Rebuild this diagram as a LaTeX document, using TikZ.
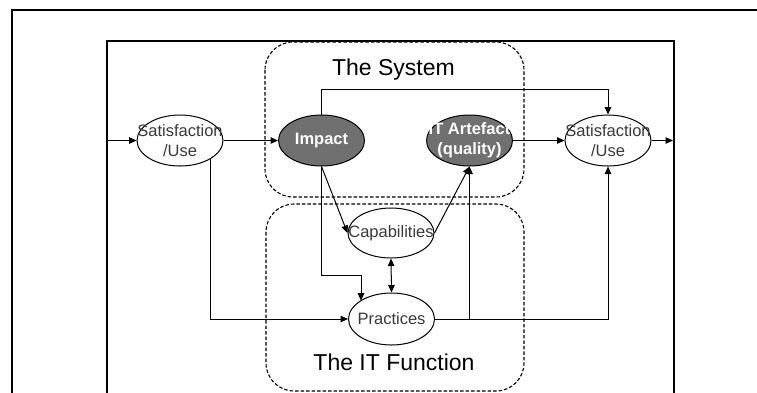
\documentclass[tikz,border=0pt]{standalone}
\usepackage{fontspec}
\setmainfont{Liberation Sans}
\usetikzlibrary{shapes.geometric,arrows.meta}
\definecolor{ovfill}{HTML}{707070}
\definecolor{txtgray}{HTML}{3A3A3A}
\tikzset{
  frame/.style={line width=2pt},
  grp/.style={draw, dashed, dash pattern=on 3.5pt off 2pt, line width=1.1pt, rounded corners=28pt},
  ov/.style={ellipse, draw, line width=1pt, minimum width=86pt, minimum height=51pt, inner sep=0pt, fill=white},
  dark/.style={ov, fill=ovfill},
  lbl/.style={text=txtgray, font=\fontsize{16.5}{20}\selectfont, align=center, inner sep=0pt},
  dlbl/.style={text=white, font=\fontsize{16.5}{20}\selectfont\bfseries, align=center, inner sep=0pt},
  ttl/.style={font=\fontsize{23}{26}\selectfont, inner sep=0pt},
  conn/.style={line width=1pt, -{Triangle[length=7.5pt,width=6.5pt]}},
  both/.style={line width=1pt, {Triangle[length=7.5pt,width=6.5pt]}-{Triangle[length=7.5pt,width=6.5pt]}}
}
\begin{document}
\begin{tikzpicture}[x=1pt,y=-1pt]
\useasboundingbox (0,0) rectangle (757,392);
\begin{scope}
\clip (0,0) rectangle (757,392);
\draw[frame] (12,9.5) rectangle (800,420);
\draw[frame] (107,41) rectangle (674,420);
\end{scope}
% group boxes
\draw[grp] (265,42) rectangle (524,197);
\draw[grp] (266,204) rectangle (524,391);
\node[ttl] (tsys) at (393.5,70) {The System};
\node[ttl] (tit) at (394,362) {The IT Function};
% ellipses
\node[ov, label={[lbl]center:Satisfaction\\/Use}] (s1) at (180,140.5) {};
\node[dark, label={[dlbl]center:Impact}] (imp) at (321.5,140.5) {};
\node[dark, label={[dlbl]center:IT Artefact\\(quality)}] (art) at (469.5,140.5) {};
\node[ov, label={[lbl]center:Satisfaction\\/Use}] (s2) at (608,140.5) {};
\node[ov, minimum height=50pt, label={[lbl]center:Capabilities}] (cap) at (391,233) {};
\node[ov, minimum height=52pt, label={[lbl]center:Practices}] (pra) at (391.5,319) {};
% helper coordinates
\coordinate (inL) at (107,140.5);
\coordinate (outR) at (673,140.5);
\coordinate (topL) at (321.5,89);
\coordinate (topR) at (608,89);
\coordinate (vL) at (321.5,275);
\coordinate (vR) at (361,275);
\coordinate (vRend) at (361,300.7);
\coordinate (sstart) at (210,158.8);
\coordinate (sdown) at (210,319);
\coordinate (pj) at (469.5,319);
\coordinate (pr) at (608,319);
% connectors
\draw[conn] (inL) -- (s1.west);
\draw[conn] (s1.east) -- (imp.west);
\draw[conn] (art.east) -- (s2.west);
\draw[conn] (s2.east) -- (outR);
\draw[conn] (imp.north) -- (topL) -- (topR) -- (s2.north);
\draw[conn] (imp.south) -- (cap.west);
\draw[conn] (cap.east) -- (art.south);
\draw[conn] (imp.south) -- (vL) -- (vR) -- (vRend);
\draw[both] (cap.south) -- (pra.north);
\draw[conn] (sstart) -- (sdown) -- (pra.west);
\draw[conn] (pra.east) -- (pr) -- (s2.south);
\draw[conn] (pj) -- (art.south);
\end{tikzpicture}
\end{document}
